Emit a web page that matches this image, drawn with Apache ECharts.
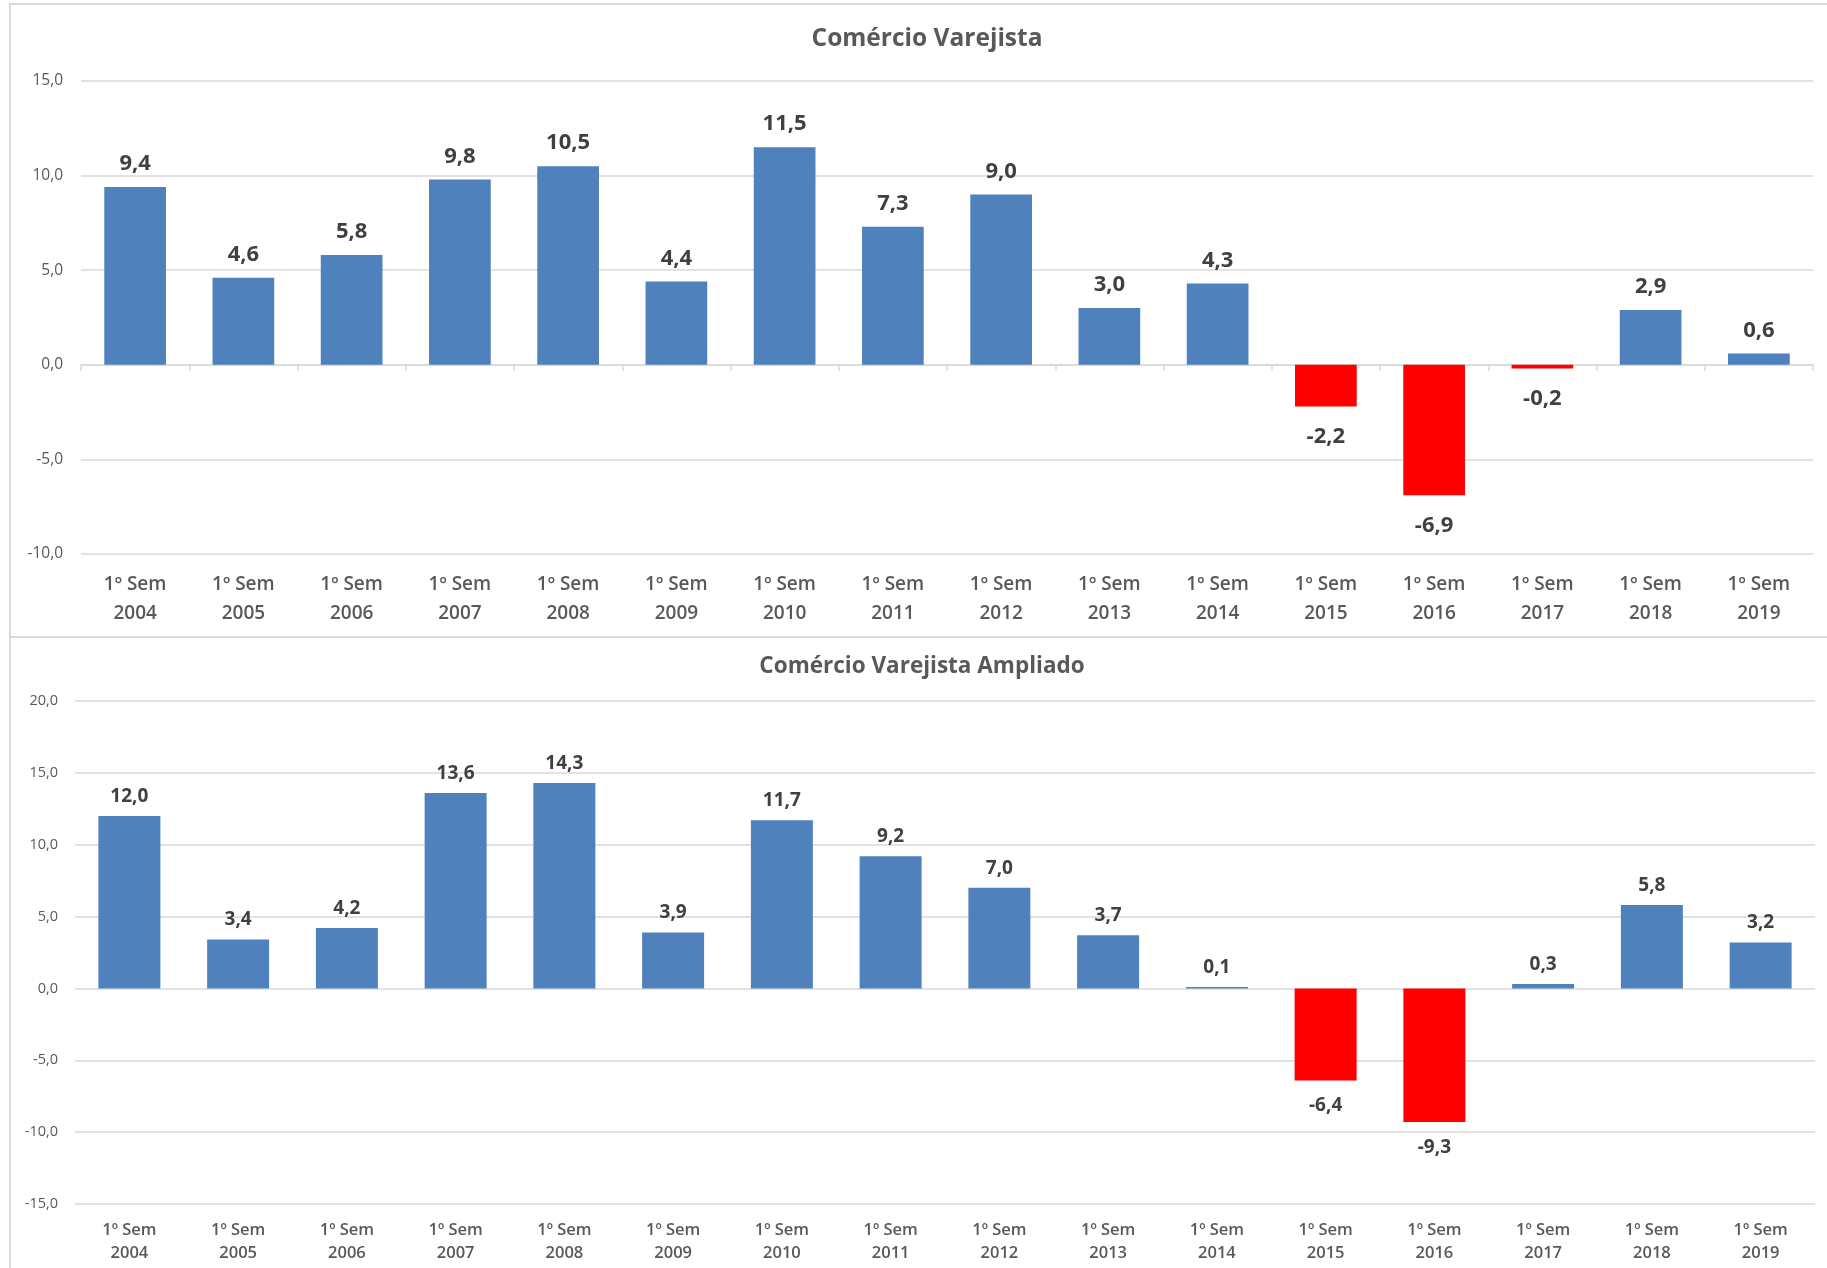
<!DOCTYPE html>
<html>
<head>
<meta charset="utf-8">
<script src="https://cdn.jsdelivr.net/npm/echarts@6/dist/echarts.min.js"></script>
<style>
html,body{margin:0;padding:0;background:#fff;}
#c{width:1827px;height:1268px;}
</style>
</head>
<body>
<div id="c"></div>
<script>
const categories = ["1º Sem\n2004","1º Sem\n2005","1º Sem\n2006","1º Sem\n2007","1º Sem\n2008","1º Sem\n2009","1º Sem\n2010","1º Sem\n2011","1º Sem\n2012","1º Sem\n2013","1º Sem\n2014","1º Sem\n2015","1º Sem\n2016","1º Sem\n2017","1º Sem\n2018","1º Sem\n2019"];
const varejista = [9.4, 4.6, 5.8, 9.8, 10.5, 4.4, 11.5, 7.3, 9.0, 3.0, 4.3, -2.2, -6.9, -0.2, 2.9, 0.6];
const ampliado = [12.0, 3.4, 4.2, 13.6, 14.3, 3.9, 11.7, 9.2, 7.0, 3.7, 0.1, -6.4, -9.3, 0.3, 5.8, 3.2];
const title1 = "Comércio Varejista";
const title2 = "Comércio Varejista Ampliado";

const FONT = '"Open Sans", "Noto Sans", sans-serif';
const BLUE = '#4F81BD', RED = '#FF0000';
const GRID = '#d9d9d9';
const fmt = v => Number(v).toFixed(1).replace('.', ',');

function items(arr, distPos, distNeg) {
  return arr.map(v => ({
    value: v,
    itemStyle: { color: v < 0 ? RED : BLUE },
    label: { position: v < 0 ? 'bottom' : 'top', distance: v < 0 ? distNeg : distPos }
  }));
}

const chart = echarts.init(document.getElementById('c'), null, {renderer: 'canvas'});
chart.setOption({
  animation: false,
  backgroundColor: '#fff',
  graphic: [
    { type: 'rect', shape: {x: 10, y: 4, width: 1830, height: 633}, style: {fill: 'none', stroke: GRID, lineWidth: 2}, silent: true },
    { type: 'rect', shape: {x: 10, y: 637, width: 1830, height: 700}, style: {fill: 'none', stroke: GRID, lineWidth: 2}, silent: true },
    { type: 'text', x: 927, y: 39, style: {text: title1, textAlign: 'center', textVerticalAlign: 'middle', fontFamily: FONT, fontWeight: 'bold', fontSize: 24.5, fill: '#595959'} },
    { type: 'text', x: 922, y: 667, style: {text: title2, textAlign: 'center', textVerticalAlign: 'middle', fontFamily: FONT, fontWeight: 'bold', fontSize: 22.5, fill: '#595959'} }
  ],
  grid: [
    { left: 81, right: 14, top: 81, height: 473 },
    { left: 75, right: 12, top: 701, height: 503 }
  ],
  xAxis: [
    { type: 'category', gridIndex: 0, data: categories, position: 'bottom',
      axisLine: {show: false, onZero: false}, axisTick: {show: false},
      axisLabel: {color: '#595959', fontFamily: FONT, fontWeight: 600, fontSize: 19, lineHeight: 29, margin: 16, interval: 0} },
    { type: 'category', gridIndex: 1, data: categories, position: 'bottom',
      axisLine: {show: false, onZero: false}, axisTick: {show: false},
      axisLabel: {color: '#595959', fontFamily: FONT, fontWeight: 600, fontSize: 16.5, lineHeight: 23, margin: 15, interval: 0} },
    { type: 'category', gridIndex: 0, data: categories, position: 'bottom',
      axisLine: {show: true, onZero: true, lineStyle: {color: GRID, width: 1.5}},
      axisTick: {show: true, length: 6, lineStyle: {color: GRID, width: 1.5}},
      axisLabel: {show: false} }
  ],
  yAxis: [
    { type: 'value', gridIndex: 0, min: -10, max: 15, interval: 5,
      axisLine: {show: false}, axisTick: {show: false},
      splitLine: {lineStyle: {color: GRID, width: 1.5}},
      axisLabel: {formatter: fmt, color: '#595959', fontFamily: FONT, fontSize: 15.5, margin: 18} },
    { type: 'value', gridIndex: 1, min: -15, max: 20, interval: 5,
      axisLine: {show: false}, axisTick: {show: false},
      splitLine: {lineStyle: {color: GRID, width: 1.5}},
      axisLabel: {formatter: fmt, color: '#595959', fontFamily: FONT, fontSize: 14.5, margin: 17} }
  ],
  series: [
    { type: 'bar', xAxisIndex: 0, yAxisIndex: 0, barWidth: '57%',
      data: items(varejista, 12, 19),
      label: {show: true, formatter: p => fmt(p.value), color: '#404040', fontFamily: FONT, fontWeight: 'bold', fontSize: 22} },
    { type: 'bar', xAxisIndex: 1, yAxisIndex: 1, barWidth: '57%',
      data: items(ampliado, 10, 16),
      label: {show: true, formatter: p => fmt(p.value), color: '#404040', fontFamily: FONT, fontWeight: 'bold', fontSize: 19} }
  ]
});
</script>
</body>
</html>
